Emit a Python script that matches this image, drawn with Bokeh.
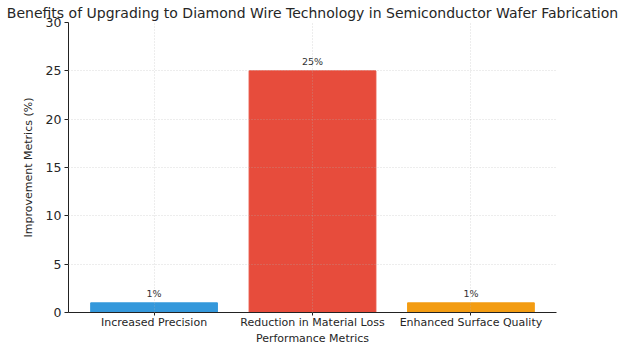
from bokeh.plotting import figure
from bokeh.models import Range1d, FixedTicker, LabelSet, ColumnDataSource
from bokeh.core.properties import value
from bokeh.embed import file_html
from bokeh.resources import INLINE

categories = ["Increased Precision", "Reduction in Material Loss", "Enhanced Surface Quality"]
values = [1, 25, 1]
colors = ["#3498db", "#e74c3c", "#f39c12"]
value_labels = ["1%", "25%", "1%"]
y_ticks = [0, 5, 10, 15, 20, 25, 30]

xs = list(range(len(categories)))
src = ColumnDataSource(dict(x=xs, top=values, color=colors, label=value_labels))

FONT = "DejaVu Sans"

p = figure(width=624, height=347, output_backend="svg", toolbar_location=None,
           x_range=Range1d(-0.54, 2.54), y_range=Range1d(0, 30),
           min_border_left=68, min_border_right=68, min_border_top=22, min_border_bottom=34)

p.title.text = "Benefits of Upgrading to Diamond Wire Technology in Semiconductor Wafer Fabrication"
p.title.text_font = FONT
p.title.text_font_size = "14px"
p.title.text_font_style = "normal"
p.title.text_color = "#262626"
p.title.align = "center"
p.title.vertical_align = "top"
p.title.standoff = 0
p.title.offset = 0

p.vbar(x="x", top="top", width=0.8, color="color", source=src)

p.add_layout(LabelSet(x="x", y="top", text="label", source=src, text_align="center",
                      text_baseline="bottom", y_offset=4, text_font_size="9.5px",
                      text_font=value(FONT), text_color="#333333"))

p.outline_line_color = None
for g in (p.xgrid, p.ygrid):
    g.grid_line_color = "#b0b0b0"
    g.grid_line_alpha = 0.6
    g.grid_line_dash = "1 2"
    g.grid_line_width = 0.8
    g.level = "annotation"
p.xgrid.ticker = FixedTicker(ticks=xs)
p.ygrid.ticker = FixedTicker(ticks=y_ticks)

p.xaxis.ticker = FixedTicker(ticks=xs)
p.xaxis.major_label_overrides = {i: c for i, c in enumerate(categories)}
p.yaxis.ticker = FixedTicker(ticks=y_ticks)
p.xaxis.axis_label = "Performance Metrics"
p.yaxis.axis_label = "Improvement Metrics (%)"
for ax in (p.xaxis[0], p.yaxis[0]):
    ax.axis_line_color = "#222222"
    ax.major_tick_line_color = "#222222"
    ax.major_tick_out = 4
    ax.major_tick_in = 0
    ax.minor_tick_line_color = None
    ax.major_label_text_font = FONT
    ax.axis_label_text_font = FONT
    ax.axis_label_text_font_style = "normal"
    ax.axis_label_text_color = "#262626"
    ax.major_label_text_color = "#262626"
    ax.axis_label_text_font_size = "11px"
    ax.major_label_text_font_size = "11px"
p.yaxis.major_label_text_font_size = "12.5px"
p.xaxis.major_tick_out = 3
p.xaxis.major_label_standoff = 0
p.xaxis.axis_label_standoff = 0
p.yaxis.major_label_standoff = 3
p.yaxis.axis_label_standoff = 8

open("out.html", "w").write(file_html(p, INLINE))
